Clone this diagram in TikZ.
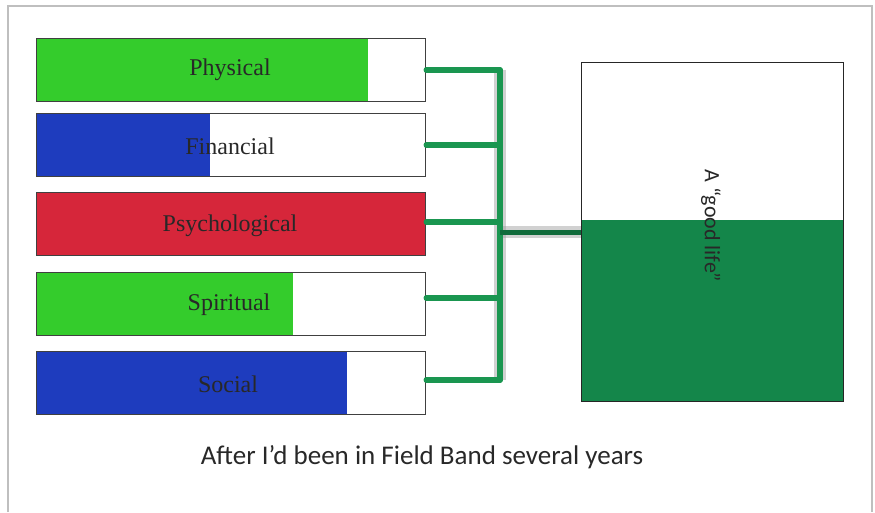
\documentclass[tikz,border=0pt]{standalone}
\usepackage{fontspec}
\setmainfont{Liberation Serif}
\newfontfamily\capfont{Carlito}
\definecolor{brgreen}{RGB}{52,204,44}
\definecolor{mblue}{RGB}{30,60,190}
\definecolor{mred}{RGB}{214,38,58}
\definecolor{dgreen}{RGB}{20,134,74}
\definecolor{lgreen}{RGB}{26,150,80}
\definecolor{txt}{RGB}{40,40,40}
\begin{document}
\begin{tikzpicture}[x=1pt,y=-1pt,
  bar/.style={draw=black!75,line width=1.3pt,minimum width=389pt,minimum height=63pt,inner sep=0pt,anchor=north west},
  lab/.style={font=\fontsize{24}{28}\selectfont,text=txt},
  wire/.style={draw=lgreen,line width=5.5pt,line cap=round},
  shadowwire/.style={draw=black!40,line width=12pt,opacity=0.45}]
\useasboundingbox (0,0) rectangle (875,512);
\draw[black!25,line width=1.5pt] (8,512) -- (8,6) -- (872,6) -- (872,512);
% fills
\fill[brgreen] (36,38) rectangle (368,101);
\fill[mblue] (36,113) rectangle (210,177);
\fill[mred] (36,192) rectangle (425,256);
\fill[brgreen] (36,272) rectangle (293,336);
\fill[mblue] (36,351) rectangle (347,415);
% bars
\node[bar] (phy) at (36,38) {};
\node[bar] (fin) at (36,113) {};
\node[bar] (psy) at (36,192) {};
\node[bar] (spi) at (36,272) {};
\node[bar] (soc) at (36,351) {};
\node[lab] (lphy) at (230,70) {Physical};
\node[lab] (lfin) at (230,146) {Financial};
\node[lab] (lpsy) at (230,226) {Psychological};
\node[lab] (lspi) at (229,305) {Spiritual};
\node[lab] (lsoc) at (228,384) {Social};
% goal box
\fill[dgreen] (581,220) rectangle (843,401);
\node[draw=black!85,line width=1.3pt,minimum width=262pt,minimum height=339pt,inner sep=0pt,anchor=north west] (good) at (581,62) {};
\node[rotate=-90,font=\capfont\fontsize{22}{24}\selectfont,text=txt] (gl) at (711,226) {A “good life”};
% connectors
\coordinate (j1) at (500,70);
\coordinate (j2) at (500,145);
\coordinate (j3) at (500,222);
\coordinate (j4) at (500,298);
\coordinate (j5) at (500,380);
\coordinate (jm) at (500,232);
\draw[shadowwire] (j1) -- (j5);
\draw[shadowwire] (jm) -- (good.west |- jm);
\draw[wire] (phy.east |- j1) -- (j1);
\draw[wire] (fin.east |- j2) -- (j2);
\draw[wire] (psy.east |- j3) -- (j3);
\draw[wire] (spi.east |- j4) -- (j4);
\draw[wire] (soc.east |- j5) -- (j5);
\draw[wire] (j1) -- (j5);
\draw[draw=dgreen!80!black,line width=5pt] (jm) -- (good.west |- jm);
% caption
\node[font=\capfont\fontsize{27}{30}\selectfont,text=txt] (cap) at (422,457) {After I’d been in Field Band several years};
\end{tikzpicture}
\end{document}
